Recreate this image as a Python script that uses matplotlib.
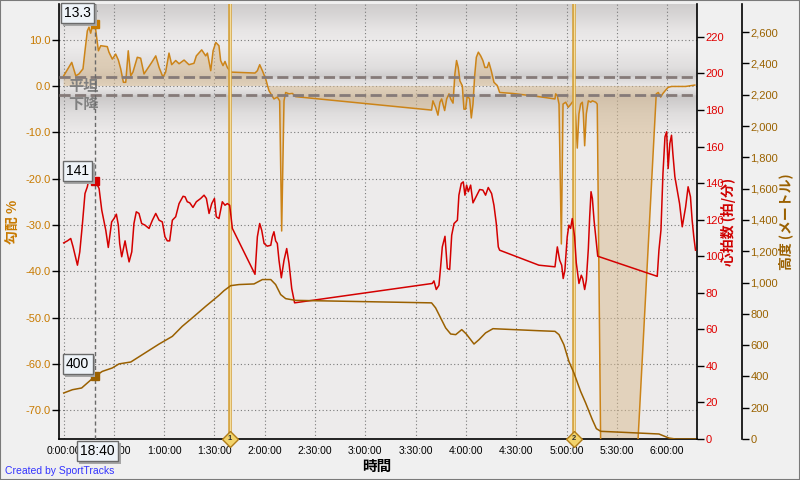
import numpy as np
import matplotlib
matplotlib.use('Agg')
import matplotlib.pyplot as plt
from matplotlib.patches import Rectangle

# ---------------- data ----------------
grad_t = [0.1, 4.9, 7.3, 9.2, 11.6, 12.8, 14.2, 15.2, 16.2, 17.2,
          18.7, 19.2, 20.8, 22.2, 26.1, 27.1, 29.1, 31.1, 32.7, 34.1,
          35.7, 37.1, 38.6, 40.1, 41.4, 44.0, 46.0, 48.0, 50.0, 52.6,
          55.0, 57.0, 59.3, 60.9, 62.9, 64.5, 66.9, 68.9, 71.9, 74.8,
          77.8, 79.2, 82.4, 84.8, 85.8, 87.8, 89.2, 90.8, 92.7, 93.7,
          95.1, 96.3, 97.7, 99.7, 114.2, 115.6, 117.0, 118.6, 120.6, 122.5,
          125.5, 127.5, 128.9, 130.1, 131.5, 132.5, 134.5, 136.5, 138.4, 219.5,
          220.3, 221.9, 223.3, 224.5, 225.5, 226.3, 227.3, 228.5, 229.9, 230.9,
          232.3, 233.4, 234.4, 235.4, 236.4, 237.8, 238.8, 239.8, 240.8, 242.2,
          243.2, 244.2, 245.2, 246.2, 247.4, 248.8, 250.1, 251.3, 252.7, 253.7,
          255.1, 256.7, 258.7, 260.1, 267.6, 283.5, 293.1, 293.5, 294.5, 295.5,
          296.9, 297.9, 299.5, 301.0, 302.4, 303.8, 304.6, 305.4, 306.4, 307.4,
          308.4, 309.4, 310.0, 310.8, 311.8, 313.0, 314.4, 315.4, 317.4, 318.3,
          323.9, 353.5, 354.7, 356.1, 357.5, 359.1, 360.6, 362.6, 371.0, 376.5]
grad_v = [2.2, 5.1, 2.2, 2.6, 3.7, 7.6, 11.9, 12.7, 11.4, 13.0,
          13.3, 12.1, 7.6, 8.7, 8.5, 7.3, 5.8, 6.9, 5.6, 3.7,
          0.8, 0.8, 7.6, 2.2, 3.0, 6.2, 6.0, 2.6, 3.7, 5.1,
          6.5, 4.0, 1.9, 3.0, 7.1, 4.6, 5.5, 4.8, 5.6, 4.6,
          4.9, 6.5, 7.8, 6.5, 7.1, 3.3, 7.6, 9.4, 8.7, 5.5,
          4.4, 5.3, 4.0, 3.0, 2.8, 3.3, 4.6, 3.3, 1.5, -1.0,
          -2.8, -2.4, -3.2, -31.3, -3.2, -1.4, -1.7, -1.6, -2.3, -5.2,
          -3.2, -4.6, -6.3, -3.5, -2.8, -3.9, -5.3, -2.8, -1.7, -2.8,
          -3.7, 2.6, 5.5, 4.0, 1.1, 0.1, -5.0, -5.0, -2.1, -2.8,
          -6.9, -3.9, 2.2, 6.2, 7.3, 6.5, 5.5, 4.0, 4.0, 5.1,
          3.3, 0.8, 0.1, -1.4, -1.6, -2.3, -2.8, -1.7, -2.1, -3.9,
          -34.1, -3.9, -3.5, -4.6, -4.0, -3.3, -3.5, -6.5, -13.4, -6.0,
          -3.9, -3.5, -6.0, -12.9, -6.0, -3.2, -3.5, -3.2, -3.5, -3.9,
          -205.0, -1.7, -1.4, -2.4, -1.6, -0.9, -0.3, -0.1, -0.1, 0.2]

hr_t = [0.1, 2.3, 4.3, 5.7, 8.3, 9.7, 11.2, 12.8, 14.2, 15.2,
        16.8, 18.7, 20.2, 21.2, 22.8, 25.2, 26.7, 28.7, 30.1, 31.5,
        32.7, 33.5, 34.7, 35.5, 36.7, 37.7, 39.1, 40.7, 42.0, 43.4,
        45.0, 46.6, 48.6, 51.0, 53.0, 55.0, 57.0, 58.9, 60.5, 61.9,
        63.3, 64.9, 66.9, 68.9, 71.3, 72.5, 73.8, 75.3, 77.2, 79.2,
        81.8, 83.8, 85.2, 86.8, 88.4, 90.0, 91.1, 92.7, 94.7, 96.3,
        97.7, 99.1, 100.7, 114.2, 115.6, 117.0, 118.2, 119.6, 121.5, 123.6,
        124.5, 125.5, 126.5, 127.5, 128.5, 129.9, 131.5, 133.1, 134.5, 136.1,
        137.8, 219.9, 220.9, 222.3, 223.9, 224.9, 225.9, 227.5, 228.9, 230.3,
        231.5, 232.9, 234.9, 235.8, 237.2, 238.4, 239.4, 240.4, 241.4, 242.8,
        244.2, 246.2, 248.2, 250.1, 251.7, 253.3, 255.3, 256.7, 258.1, 259.3,
        260.1, 283.5, 293.1, 294.5, 295.9, 297.1, 298.0, 299.0, 300.4, 301.4,
        302.4, 303.4, 304.8, 305.8, 307.4, 308.8, 309.6, 310.8, 311.8, 313.0,
        313.8, 314.6, 315.4, 316.4, 317.4, 318.6, 354.1, 355.1, 356.3, 357.5,
        358.7, 359.7, 360.6, 361.6, 362.6, 363.4, 364.6, 366.0, 367.4, 369.0,
        370.0, 371.0, 372.5, 373.9, 374.9, 375.9, 376.9]
hr_v = [107.3, 108.4, 109.7, 105.1, 95.1, 102.4, 117.0, 134.3, 138.0, 142.5,
        141.6, 141.0, 138.9, 137.1, 125.2, 114.2, 104.8, 118.8, 120.6, 123.0,
        117.0, 106.9, 99.7, 103.3, 108.4, 103.3, 96.9, 102.4, 117.9, 124.3,
        123.4, 117.9, 117.0, 115.2, 119.7, 123.4, 119.7, 118.8, 110.6, 108.4,
        108.4, 119.7, 121.6, 128.8, 132.8, 132.5, 129.8, 129.2, 126.7, 129.8,
        131.6, 133.4, 131.6, 123.4, 128.8, 131.6, 121.6, 120.6, 129.8, 127.9,
        128.8, 127.9, 115.2, 90.1, 110.6, 117.9, 114.2, 107.0, 105.5, 106.0,
        110.6, 113.4, 108.4, 107.0, 97.8, 88.2, 97.8, 104.2, 96.0, 82.3,
        74.5, 85.1, 86.5, 81.8, 84.1, 94.2, 105.1, 110.9, 93.3, 92.7,
        111.5, 117.9, 119.7, 133.4, 139.8, 140.7, 133.4, 138.9, 135.3, 138.9,
        129.2, 132.8, 136.5, 136.2, 133.4, 137.6, 134.3, 127.9, 117.9, 105.1,
        103.3, 95.1, 94.2, 105.1, 97.8, 95.1, 87.8, 92.3, 110.6, 117.0,
        115.2, 120.6, 110.6, 96.4, 85.1, 89.6, 87.8, 81.8, 86.9, 104.2,
        121.6, 135.3, 131.6, 119.7, 110.6, 100.0, 89.0, 103.3, 114.2, 145.3,
        165.3, 168.1, 148.0, 161.7, 166.2, 156.2, 143.5, 136.1, 128.8, 116.1,
        121.6, 126.9, 138.0, 132.5, 119.7, 110.6, 103.3]

alt_t = [0.1, 5.3, 10.8, 14.2, 18.7, 23.1, 29.1, 33.1, 40.1, 47.0,
         57.0, 64.9, 70.8, 76.8, 84.8, 92.7, 95.7, 99.7, 104.6, 113.6,
         118.6, 123.6, 126.5, 129.5, 132.5, 138.4, 219.5, 221.9, 224.9, 227.9,
         230.9, 233.9, 237.5, 240.2, 244.8, 247.8, 251.7, 256.1, 283.5, 293.1,
         295.5, 298.4, 301.4, 304.4, 308.4, 311.4, 315.4, 317.8, 320.4, 333.2,
         355.1, 361.1, 365.0, 376.9]
alt_v = [294, 315, 326, 358, 400, 432, 454, 480, 492, 539,
         607, 656, 720, 774, 848, 918, 948, 980, 987, 991,
         1019, 1019, 987, 923, 897, 886, 870, 838, 774, 710,
         671, 667, 699, 671, 607, 635, 678, 705, 692, 688,
         667, 603, 496, 422, 304, 230, 123, 66, 49, 43,
         32, 6, 0, 0]

x_ticks = [0, 30, 60, 90, 120, 150, 180, 210, 240, 270, 300, 330, 360]
x_tick_labels = ['0:00:00', '0:30:00', '1:00:00', '1:30:00', '2:00:00', '2:30:00',
                 '3:00:00', '3:30:00', '4:00:00', '4:30:00', '5:00:00', '5:30:00', '6:00:00']
grad_ticks = [10, 0, -10, -20, -30, -40, -50, -60, -70]
grad_tick_labels = ['10.0', '0.0', '-10.0', '-20.0', '-30.0', '-40.0', '-50.0', '-60.0', '-70.0']
hr_ticks = [0, 20, 40, 60, 80, 100, 120, 140, 160, 180, 200, 220]
hr_tick_labels = ['0', '20', '40', '60', '80', '100', '120', '140', '160', '180', '200', '220']
alt_ticks = [0, 200, 400, 600, 800, 1000, 1200, 1400, 1600, 1800, 2000, 2200, 2400, 2600]
alt_tick_labels = ['0', '200', '400', '600', '800', '1,000', '1,200', '1,400', '1,600',
                   '1,800', '2,000', '2,200', '2,400', '2,600']
lap_times = [99.3, 304.5]
lap_labels = ['1', '2']
flat_upper, flat_lower = 2.0, -2.0
zone_labels = ['上昇', '平坦', '下降']
cursor_time = 18.67
cursor_time_label = '18:40'
cursor_grad, cursor_hr, cursor_alt = 13.3, 141, 400

# ---------------- style ----------------
W, H = 800, 480
plt.rcParams['font.family'] = ['Liberation Sans', 'Noto Sans CJK JP', 'DejaVu Sans']
CJK = ['Noto Sans CJK JP', 'DejaVu Sans']
c_grad_txt = '#c87a00'
c_grad_line = '#cc8418'
c_hr = '#d40000'
c_alt = '#9a6000'

fig = plt.figure(figsize=(8, 4.8), dpi=100, facecolor='#f0f0f0')
ax = fig.add_axes([59 / W, 1 - 439 / H, 638 / W, 435 / H])
ax.set_facecolor('#ececec')

XMIN, XMAX = -2.7, 377.8
GMIN, GMAX = -76.2, 17.7

# background gradient bands
ys = np.linspace(GMIN, GMAX, 800)
kp_y = [GMIN, -10.5, -6, -2.05, -1.95, 0.0, 1.95, 2.05, 4, 9, 12, GMAX]
kp_g = [0.925, 0.925, 0.87, 0.78, 0.83, 0.915, 0.83, 0.80, 0.87, 0.925, 0.90, 0.80]
g = np.interp(ys, kp_y, kp_g)
img = np.stack([np.minimum(g + 0.008, 1), g, g], axis=-1)[:, None, :]
ax.imshow(img, extent=[XMIN, XMAX, GMIN, GMAX], origin='lower', aspect='auto',
          interpolation='bilinear', zorder=0.2)

ax.grid(True, color='#7a7a7a', linestyle=(0, (1, 2.2)), linewidth=0.8, zorder=0.5)
ax.set_axisbelow(True)

ax.fill_between(grad_t, grad_v, 0, color=(216 / 255, 186 / 255, 142 / 255), alpha=0.5,
                linewidth=0, zorder=2)
ax.plot(grad_t, grad_v, color=c_grad_line, lw=1.1, zorder=3)
for yv in (flat_upper, flat_lower):
    ax.axhline(yv, color='#857a78', lw=2.0, linestyle=(0, (4, 1.6)), zorder=4)

# zone labels
zkw = dict(fontsize=11, fontweight='bold', color='#808080', family=CJK, ha='left', zorder=3.5,
           clip_on=True)
ax.text(3.0, GMAX + 0.6, zone_labels[0], va='top', **zkw)
ax.text(3.0, 0.0, zone_labels[1], va='center', **zkw)
ax.text(3.0, flat_lower - 0.2, zone_labels[2], va='top', **zkw)

# lap lines
for lt, ll in zip(lap_times, lap_labels):
    ax.axvline(lt, color='#d3a03a', lw=2.6, zorder=5)
    ax.axvline(lt, color='#f4dd9c', lw=0.9, zorder=5.1)
    ax.plot([lt], [GMIN], marker='D', ms=8, mfc='#f2d36b', mec='#b07c18', mew=1,
            clip_on=False, zorder=12)
    ax.text(lt, GMIN, ll, fontsize=5.5, fontweight='bold', ha='center', va='center',
            color='#333333', zorder=13, clip_on=False)

# cursor line
ax.axvline(cursor_time, color='#6a6a6a', lw=1.0, linestyle=(0, (3, 2)), zorder=6)
ax.plot([cursor_time], [cursor_grad], marker='s', ms=5.5, color=c_grad_txt, zorder=7)

ax.set_xlim(XMIN, XMAX)
ax.set_ylim(GMIN, GMAX)
ax.set_xticks(x_ticks)
ax.set_xticklabels(x_tick_labels)
ax.set_yticks(grad_ticks)
ax.set_yticklabels(grad_tick_labels)
ax.tick_params(axis='x', length=0, pad=5, labelsize=7.5, colors='black')
ax.tick_params(axis='y', length=5, width=1, direction='out', pad=1, labelsize=8,
               color='black', labelcolor=c_grad_txt)
for s in ('top', 'right'):
    ax.spines[s].set_visible(False)
for s in ('left', 'bottom'):
    ax.spines[s].set_linewidth(1.2)
    ax.spines[s].set_color('black')

# heart rate axis
ax2 = ax.twinx()
ax2.patch.set_visible(False)
ax2.plot(hr_t, hr_v, color=c_hr, lw=1.1, zorder=3)
ax2.plot([cursor_time], [cursor_hr], marker='s', ms=5.5, color=c_hr, zorder=7)
ax2.set_ylim(0, 238)
ax2.set_yticks(hr_ticks)
ax2.set_yticklabels(hr_tick_labels)
ax2.tick_params(axis='y', length=5, width=1, direction='out', pad=1, labelsize=8,
                color='black', labelcolor='#e00000')
for s in ('top', 'left', 'bottom'):
    ax2.spines[s].set_visible(False)
ax2.spines['right'].set_linewidth(1.2)

# altitude axis
ax3 = ax.twinx()
ax3.patch.set_visible(False)
ax3.spines['right'].set_position(('axes', (742 - 59) / 638))
ax3.plot(alt_t, alt_v, color=c_alt, lw=1.1, zorder=3)
ax3.plot([cursor_time], [cursor_alt], marker='s', ms=5.5, color=c_alt, zorder=7)
ax3.set_ylim(0, 2780)
ax3.set_yticks(alt_ticks)
ax3.set_yticklabels(alt_tick_labels)
ax3.tick_params(axis='y', length=5, width=1, direction='out', pad=1, labelsize=8,
                color='black', labelcolor='#9a6200')
for s in ('top', 'left', 'bottom'):
    ax3.spines[s].set_visible(False)
ax3.spines['right'].set_linewidth(1.2)
ax3.set_xlim(XMIN, XMAX)
ax2.set_xlim(XMIN, XMAX)

# axis labels
lkw = dict(rotation=90, ha='center', va='center', fontsize=10, fontweight='bold',
           family=CJK, transform=ax.transAxes)
ax.text((14 - 59) / 638, 0.5, '勾配 %', color=c_grad_txt, **lkw)
ax.text((728 - 59) / 638, 0.5, '心拍数 (拍/分)', color='#d00000', **lkw)
ax.text((786 - 59) / 638, 0.5, '高度 (メートル)', color=c_alt, **lkw)
fig.text(377 / W, 1 - 466 / H, '時間', ha='center', va='center', fontsize=10.5,
         fontweight='bold', family=CJK, color='black')

fig.text(5 / W, 1 - 471 / H, 'Created by SportTracks', ha='left', va='center',
         fontsize=7.5, color='#3333ff')


def box_label(x_px, y_px, s, fs=10):
    X, Y = x_px / W, 1 - y_px / H
    fig.text(X + 2.5 / W, Y - 2.5 / H, s, fontsize=fs, color='none', ha='left', va='center',
             bbox=dict(boxstyle='square,pad=0.25', fc='#a6a6a6', ec='none'), zorder=20)
    fig.text(X, Y, s, fontsize=fs, color='black', ha='left', va='center',
             bbox=dict(boxstyle='square,pad=0.25', fc='#eef3f8', ec='#6a6a6a', lw=1), zorder=21)


box_label(64, 13, f'{cursor_grad:.1f}')
box_label(66, 171, f'{cursor_hr}')
box_label(66, 364, f'{cursor_alt}')
box_label(80, 451, cursor_time_label)

fig.add_artist(Rectangle((0, 0), 1, 1, transform=fig.transFigure, fill=False,
                         ec='#7a7a7a', lw=1.5, zorder=30))

fig.savefig('out.png', dpi=100, facecolor=fig.get_facecolor())
